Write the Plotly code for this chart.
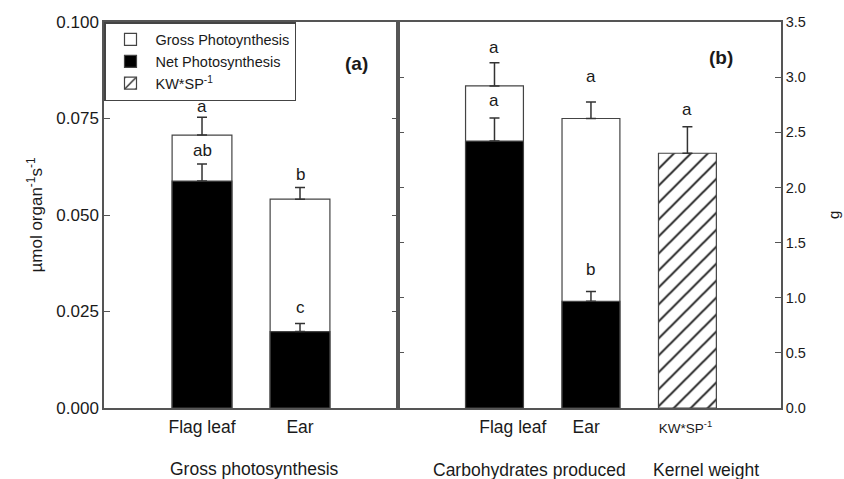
import plotly.graph_objects as go

# ---- data -------------------------------------------------------------
organs = ["Flag leaf", "Ear"]

# (a) photosynthesis, µmol organ-1 s-1
gross_ps = [0.0707, 0.0541]
gross_ps_err = [0.0046, 0.0030]
net_ps = [0.0588, 0.0198]
net_ps_err = [0.0044, 0.0021]
gross_ps_letters = ["a", "b"]
net_ps_letters = ["ab", "c"]

# (b) carbohydrates produced and kernel weight, g
gross_carb = [2.92, 2.625]
gross_carb_err = [0.21, 0.15]
net_carb = [2.42, 0.967]
net_carb_err = [0.21, 0.09]
gross_carb_letters = ["a", "a"]
net_carb_letters = ["a", "b"]

kw_label = "KW*SP<sup>-1</sup>"
kernel_weight = [2.31]
kernel_weight_err = [0.24]
kernel_weight_letters = ["a"]

left_ticks = [0.0, 0.025, 0.05, 0.075, 0.1]
right_ticks = [0.0, 0.5, 1.0, 1.5, 2.0, 2.5, 3.0, 3.5]

# ---- styling / placement ---------------------------------------------
FONT = "Arial, 'Liberation Sans', sans-serif"
INK = "#1a1a1a"
LINE = "#555555"
BAR_EDGE = "#444444"

pos_a = [1, 2]
pos_b = [1, 2]
pos_kw = [3]
label_pos_b = [1.19, 1.95, 2.98]
bar_w = 0.61

# letter offsets above the error caps (px)
shift_gross_a = [11, 13]
shift_net_a = [14, 16]
shift_gross_b = [15, 25]
shift_net_b = [17, 22]
shift_kw = [17]


def err(values):
    return dict(type="data", array=values, arrayminus=[0] * len(values),
                symmetric=False, color="#333333", thickness=1.5, width=5)


fig = go.Figure()

# panel (a)
fig.add_trace(go.Bar(x=pos_a, y=gross_ps, width=bar_w, name="Gross Photoynthesis",
                     marker=dict(color="white", line=dict(color=BAR_EDGE, width=1.2)),
                     error_y=err(gross_ps_err), xaxis="x", yaxis="y", legendrank=1))
fig.add_trace(go.Bar(x=pos_a, y=net_ps, width=bar_w, name="Net Photosynthesis",
                     marker=dict(color="black", line=dict(color=BAR_EDGE, width=1.2)),
                     error_y=err(net_ps_err), xaxis="x", yaxis="y", legendrank=2))

# panel (b)
fig.add_trace(go.Bar(x=pos_b, y=gross_carb, width=0.6, showlegend=False,
                     marker=dict(color="white", line=dict(color=BAR_EDGE, width=1.2)),
                     error_y=err(gross_carb_err), xaxis="x2", yaxis="y2"))
fig.add_trace(go.Bar(x=pos_b, y=net_carb, width=0.6, showlegend=False,
                     marker=dict(color="black", line=dict(color=BAR_EDGE, width=1.2)),
                     error_y=err(net_carb_err), xaxis="x2", yaxis="y2"))
fig.add_trace(go.Bar(x=pos_kw, y=kernel_weight, width=0.6, name=kw_label,
                     marker=dict(color="white", line=dict(color=BAR_EDGE, width=1.2),
                                 pattern=dict(shape="/", fgcolor="#1a1a1a", bgcolor="white",
                                              fgopacity=1, size=12, solidity=0.16)),
                     error_y=err(kernel_weight_err), xaxis="x2", yaxis="y2", legendrank=3))

annotations = []


def letters(xs, vals, errs, labels, shifts, xref, yref):
    for x, v, e, t, s in zip(xs, vals, errs, labels, shifts):
        annotations.append(dict(x=x, y=v + e, xref=xref, yref=yref, text=t,
                                showarrow=False, yanchor="middle", yshift=s,
                                font=dict(size=17, color=INK)))


letters(pos_a, gross_ps, gross_ps_err, gross_ps_letters, shift_gross_a, "x", "y")
letters(pos_a, net_ps, net_ps_err, net_ps_letters, shift_net_a, "x", "y")
letters(pos_b, gross_carb, gross_carb_err, gross_carb_letters, shift_gross_b, "x2", "y2")
letters(pos_b, net_carb, net_carb_err, net_carb_letters, shift_net_b, "x2", "y2")
letters(pos_kw, kernel_weight, kernel_weight_err, kernel_weight_letters, shift_kw, "x2", "y2")

# panel tags
annotations.append(dict(x=2.58, y=0.1, xref="x", yref="y", text="<b>(a)</b>",
                        showarrow=False, yshift=-41, font=dict(size=19, color=INK)))
annotations.append(dict(x=3.35, y=3.5, xref="x2", yref="y2", text="<b>(b)</b>",
                        showarrow=False, yshift=-35, font=dict(size=19, color=INK)))

# right-hand axis unit
annotations.append(dict(x=1, y=0.5, xref="paper", yref="paper", text="g", showarrow=False,
                        textangle=-90, xanchor="center", yanchor="middle", xshift=52,
                        font=dict(size=15, color=INK)))

# group captions under the axes
for text, xc, xr, dy in [("Gross photosynthesis", 254, "x", -61),
                         ("Carbohydrates produced", 530, "x2", -62),
                         ("Kernel weight", 706, "x2", -62)]:
    if xr == "x":
        xv = (xc - 104) / 98.0
    else:
        xv = (xc - 398) / 96.5
    annotations.append(dict(x=xv, y=0, xref=xr, yref="paper", text=text, showarrow=False,
                            yanchor="middle", yshift=dy, font=dict(size=17.5, color=INK)))

axis_common = dict(showline=True, linecolor=LINE, linewidth=1.5, showgrid=False,
                   zeroline=False, automargin=False)

fig.update_layout(
    width=844, height=479,
    margin=dict(l=104, r=63, t=22, b=71),
    paper_bgcolor="white", plot_bgcolor="white",
    barmode="overlay",
    font=dict(family=FONT, color=INK),
    showlegend=True,
    legend=dict(x=0, y=1, xref="paper", yref="paper", xanchor="left", yanchor="top",
                bgcolor="white", bordercolor="#444444", borderwidth=1.5,
                font=dict(size=14.5, color=INK), itemwidth=40, tracegroupgap=0,
                traceorder="normal"),
    xaxis=dict(domain=[0, 0.4343], range=[0, 3], anchor="y", mirror=True,
               tickvals=pos_a, ticktext=organs, ticks="", tickfont=dict(size=17.5),
               ticklabelstandoff=2, **axis_common),
    yaxis=dict(range=[0, 0.1], anchor="x", tickvals=left_ticks, tickformat=".3f",
               ticks="inside", ticklen=6, tickwidth=1.2, tickcolor=LINE, mirror="ticks",
               tickfont=dict(size=17),
               title=dict(text="µmol organ<sup>-1</sup>s<sup>-1</sup>", font=dict(size=17),
                          standoff=9),
               **axis_common),
    xaxis2=dict(domain=[0.4343, 1], range=[0, 3.97], anchor="y2", mirror=True,
                tickvals=label_pos_b,
                ticktext=organs + ["<span style='font-size:13.5px'>" + kw_label + "</span>"],
                ticks="", tickfont=dict(size=17.5), ticklabelstandoff=2, **axis_common),
    yaxis2=dict(range=[0, 3.5], anchor="x2", side="right", tickvals=right_ticks,
                tickformat=".1f", ticks="inside", ticklen=6, tickwidth=1.2, tickcolor=LINE,
                mirror="ticks", tickfont=dict(size=14.5),
                **axis_common),
    annotations=annotations,
)

fig.write_html("out.html")
